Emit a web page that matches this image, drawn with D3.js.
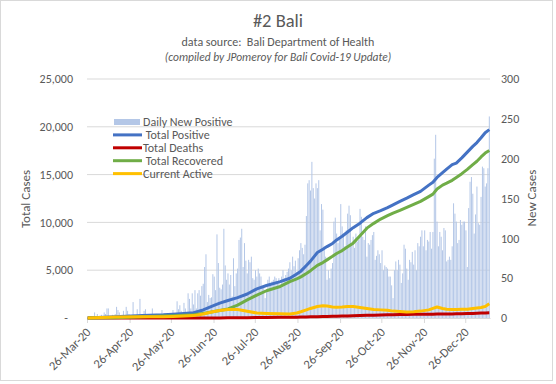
<!DOCTYPE html>
<html>
<head>
<meta charset="utf-8">
<script src="https://cdn.jsdelivr.net/npm/d3@7"></script>
<style>
  body { margin: 0; background: #fff; }
  svg { font-family: Carlito, Lato, sans-serif; }
</style>
</head>
<body>
<svg id="chart"></svg>
<script>
// Daily values start on this date, one per day
const startDate = "2020-03-26";

// Daily New Positive (right axis)
const dailyNew = [
  0, 0, 1, 0, 2, 7, 1, 5, 0, 3, 4, 1, 7, 5, 12, 12, 2, 0, 4, 2,
  5, 14, 10, 7, 1, 4, 9, 2, 14, 9, 5, 2, 1, 20, 4, 3, 11, 2, 24, 5,
  4, 9, 11, 4, 2, 4, 1, 12, 4, 2, 1, 0, 3, 1, 10, 5, 4, 5, 2, 3,
  1, 2, 10, 4, 3, 21, 11, 16, 9, 3, 19, 12, 6, 31, 24, 12, 31, 17, 35, 12,
  31, 35, 28, 40, 43, 64, 80, 20, 29, 25, 26, 55, 52, 35, 105, 69, 38, 36, 42, 112,
  66, 48, 56, 42, 54, 27, 75, 40, 56, 62, 98, 101, 112, 64, 94, 72, 56, 73, 70, 77,
  50, 48, 60, 52, 62, 56, 52, 40, 38, 25, 35, 48, 52, 44, 46, 48, 52, 50, 45, 50,
  42, 52, 60, 50, 54, 58, 62, 70, 60, 77, 65, 72, 58, 75, 85, 94, 88, 80, 92, 128,
  169, 173, 160, 196, 163, 150, 169, 163, 173, 110, 143, 136, 90, 77, 48, 60, 50, 62, 69, 121,
  126, 106, 94, 100, 143, 115, 102, 90, 110, 131, 141, 129, 94, 102, 88, 106, 96, 98, 137, 127,
  102, 98, 115, 77, 94, 92, 98, 104, 108, 73, 78, 85, 80, 69, 85, 60, 66, 64, 62, 52,
  52, 41, 25, 60, 71, 60, 73, 67, 44, 56, 92, 87, 62, 48, 73, 70, 83, 67, 85, 60,
  94, 90, 102, 110, 90, 110, 85, 98, 96, 108, 87, 108, 200, 230, 121, 90, 108, 102, 85, 113,
  110, 71, 73, 77, 73, 90, 144, 131, 121, 94, 98, 123, 117, 121, 121, 110, 64, 138, 171, 177,
  156, 106, 130, 165, 119, 117, 152, 190, 188, 165, 169, 188, 253
];

// Cumulative lines (left axis), read at these day offsets from startDate
const lineDays = [0, 20, 40, 55, 62, 70, 77, 84, 91, 96, 102, 109, 116, 123, 130, 140, 147, 152, 155, 159,
  162, 167, 171, 174, 178, 181, 185, 189, 193, 198, 203, 208, 213, 218, 222, 227, 232, 237, 242, 248,
  251, 254, 258, 261, 265, 268, 272, 276, 280, 283, 286, 289, 292];
const totalPositive = [10, 140, 260, 330, 390, 470, 560, 840, 1260, 1550, 1830, 2130, 2510, 3050, 3400, 3800, 4160, 4600, 4900, 5500,
  5950, 6850, 7200, 7470, 7800, 8170, 8550, 9000, 9450, 9920, 10500, 10950, 11230, 11550, 11840, 12200, 12540, 12900, 13250, 13900,
  14200, 14700, 15200, 15580, 16050, 16210, 16750, 17350, 17950, 18350, 18850, 19380, 19700];
const totalDeaths = [0, 2, 4, 4, 4, 4, 4, 5, 8, 10, 15, 25, 35, 45, 55, 70, 80, 90, 100, 110,
  120, 140, 150, 160, 180, 190, 200, 220, 240, 260, 280, 300, 320, 340, 350, 360, 370, 385, 395, 400,
  405, 410, 420, 425, 430, 435, 450, 460, 480, 495, 510, 525, 540];
const totalRecovered = [0, 30, 120, 200, 240, 280, 330, 480, 650, 780, 950, 1350, 1900, 2400, 2850, 3300, 3800, 4100, 4300, 4650,
  4950, 5500, 5800, 6080, 6450, 6750, 7050, 7450, 7830, 8600, 9400, 9900, 10350, 10700, 10970, 11250, 11560, 11880, 12200, 12700,
  12960, 13500, 13900, 14100, 14400, 14700, 15100, 15550, 16050, 16400, 16850, 17250, 17530];
const currentActive = [0, 100, 120, 120, 150, 200, 250, 420, 650, 780, 900, 880, 700, 520, 480, 450, 430, 520, 650, 850,
  1000, 1200, 1290, 1250, 1150, 1130, 1150, 1200, 1200, 1100, 1000, 900, 850, 800, 720, 680, 620, 650, 720, 850,
  1000, 1150, 1000, 920, 880, 900, 920, 920, 1000, 1050, 1100, 1200, 1480];

const xTickLabels = ["26-Mar-20", "26-Apr-20", "26-May-20", "26-Jun-20", "26-Jul-20", "26-Aug-20",
  "26-Sep-20", "26-Oct-20", "26-Nov-20", "26-Dec-20"];
const leftTicks = [0, 5000, 10000, 15000, 20000, 25000];
const rightTicks = [0, 50, 100, 150, 200, 250, 300];

const legendNames = ["Daily New Positive", " Total Positive", "Total Deaths", " Total Recovered", "Current Active"];
const lineColors = ["#4472c4", "#c00000", "#70ad47", "#ffc000"];

const width = 556, height = 384;
const textColor = "#595959";
const gridColor = "#d9d9d9";

const svg = d3.select("#chart").attr("width", width).attr("height", height);

// chart border
svg.append("rect").attr("x", 0.5).attr("y", 0.5).attr("width", 552).attr("height", 380)
  .attr("fill", "#fff").attr("stroke", gridColor);

const plot = { left: 87, right: 490, top: 79, bottom: 318 };

const parseStart = d3.timeParse("%Y-%m-%d");
const parseTick = d3.timeParse("%d-%b-%y");
const t0 = parseStart(startDate);
const dayAt = i => d3.timeDay.offset(t0, i);

const x = d3.scaleTime()
  .domain([t0, dayAt(dailyNew.length)])
  .range([plot.left, plot.right]);
const halfDay = (x(dayAt(1)) - x(t0)) / 2;

const yL = d3.scaleLinear().domain([0, 25000]).range([plot.bottom, plot.top]);
const yR = d3.scaleLinear().domain([0, 300]).range([plot.bottom, plot.top]);

// gridlines
svg.append("g")
  .selectAll("line")
  .data(leftTicks.slice(1))
  .join("line")
  .attr("x1", plot.left).attr("x2", plot.right)
  .attr("y1", d => yL(d)).attr("y2", d => yL(d))
  .attr("stroke", gridColor).attr("stroke-width", 1);

// bars
const barW = 1;
svg.append("g")
  .selectAll("rect")
  .data(dailyNew)
  .join("rect")
  .attr("x", (d, i) => x(dayAt(i)) + halfDay - barW / 2)
  .attr("y", d => yR(d))
  .attr("width", barW)
  .attr("height", d => yR(0) - yR(d))
  .attr("fill", "#b4c7e7");

// x axis
const xAxis = svg.append("g")
  .attr("transform", `translate(0,${plot.bottom})`)
  .call(d3.axisBottom(x)
    .tickValues(xTickLabels.map(parseTick))
    .tickFormat(d3.timeFormat("%d-%b-%y"))
    .tickSize(5)
    .tickSizeOuter(0));
xAxis.select(".domain").attr("stroke", gridColor);
xAxis.selectAll(".tick line").attr("stroke", gridColor);
xAxis.selectAll(".tick text")
  .attr("fill", textColor)
  .attr("font-size", 12.5)
  .attr("font-family", "Carlito, Lato, sans-serif")
  .attr("text-anchor", "end")
  .attr("x", 0)
  .attr("y", 0)
  .attr("dy", "0.35em")
  .attr("transform", "translate(1,12) rotate(-45)");

// lines
const series = [totalPositive, totalDeaths, totalRecovered, currentActive];
const drawOrder = [1, 0, 2, 3];
const line = d3.line()
  .x((d, i) => x(dayAt(lineDays[i])) + halfDay)
  .y(d => yL(d));
drawOrder.forEach(k => {
  svg.append("path")
    .datum(series[k])
    .attr("d", line)
    .attr("fill", "none")
    .attr("stroke", lineColors[k])
    .attr("stroke-width", 3)
    .attr("stroke-linejoin", "round");
});

// left axis labels
svg.append("g")
  .selectAll("text")
  .data(leftTicks)
  .join("text")
  .attr("x", d => d === 0 ? 68 : 73)
  .attr("y", d => yL(d))
  .attr("dy", "0.35em")
  .attr("text-anchor", "end")
  .attr("font-size", 12)
  .attr("fill", textColor)
  .text(d => d === 0 ? "-" : d3.format(",")(d));

// right axis labels
svg.append("g")
  .selectAll("text")
  .data(rightTicks)
  .join("text")
  .attr("x", 501)
  .attr("y", d => yR(d))
  .attr("dy", "0.35em")
  .attr("font-size", 12)
  .attr("fill", textColor)
  .text(d => d);

// axis titles
svg.append("text")
  .attr("transform", "translate(30,199) rotate(-90)")
  .attr("text-anchor", "middle")
  .attr("font-size", 13)
  .attr("fill", textColor)
  .text("Total Cases");
svg.append("text")
  .attr("transform", "translate(536,198) rotate(-90)")
  .attr("text-anchor", "middle")
  .attr("font-size", 13)
  .attr("fill", textColor)
  .text("New Cases");

// titles
svg.append("text").attr("x", 278).attr("y", 27).attr("text-anchor", "middle")
  .attr("font-size", 18.5).attr("fill", textColor).text("#2 Bali");
svg.append("text").attr("x", 278).attr("y", 46).attr("text-anchor", "middle")
  .attr("font-size", 12).attr("fill", textColor)
  .style("white-space", "pre")
  .text("data source:  Bali Department of Health");
svg.append("text").attr("x", 278).attr("y", 61).attr("text-anchor", "middle")
  .attr("font-size", 11.5).attr("font-style", "italic").attr("fill", textColor)
  .text("(compiled by JPomeroy for Bali Covid-19 Update)");

// legend
const legend = svg.append("g").attr("transform", "translate(113,122)");
legendNames.forEach((name, i) => {
  const yy = i * 12.9;
  if (i === 0) {
    legend.append("rect").attr("x", 1).attr("y", yy - 3).attr("width", 26).attr("height", 6).attr("fill", "#b4c7e7");
  } else {
    legend.append("line").attr("x1", 0).attr("x2", 29).attr("y1", yy).attr("y2", yy)
      .attr("stroke", lineColors[i - 1]).attr("stroke-width", 3);
  }
  legend.append("text")
    .attr("x", 30)
    .attr("y", yy)
    .attr("dy", "0.35em")
    .attr("font-size", 12)
    .attr("fill", textColor)
    .style("white-space", "pre")
    .text(name);
});
</script>
</body>
</html>
